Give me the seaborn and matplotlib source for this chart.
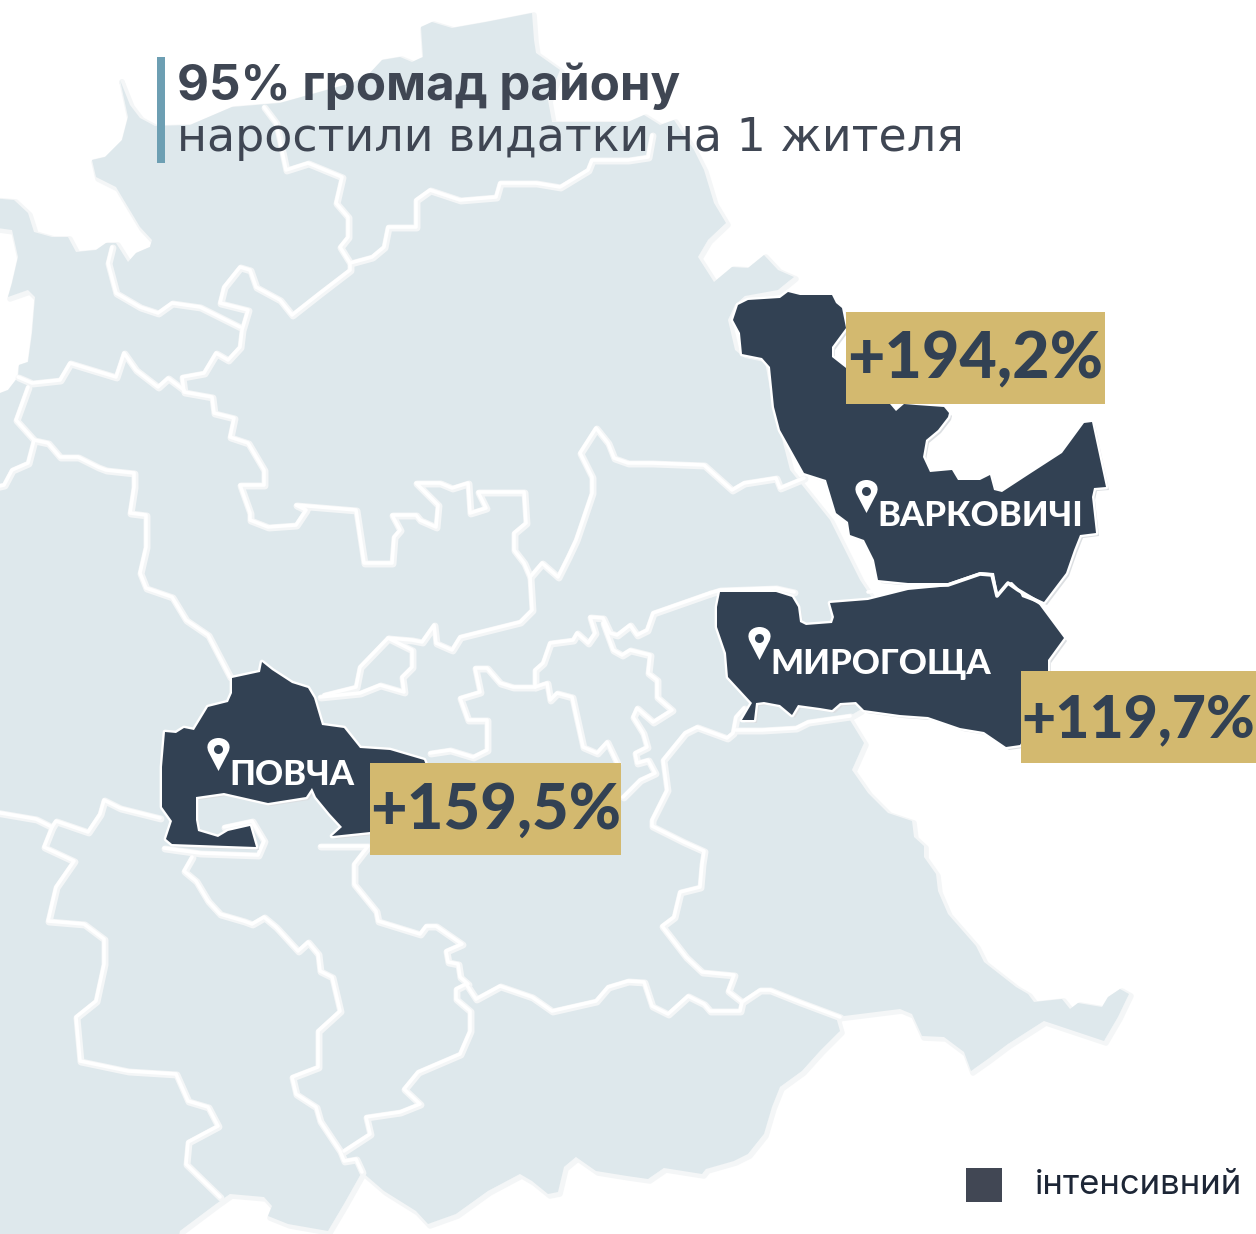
import numpy as np
import pandas as pd
import matplotlib.pyplot as plt
import seaborn as sns
from matplotlib.path import Path
from matplotlib.patches import Rectangle

# Map shapes (pixel coords)
outline = [(120, 80), (130, 105), (140, 118), (155, 126), (190, 125), (232, 107), (280, 103), (352, 83), (368, 75),
           (382, 60), (400, 57), (412, 62), (423, 57), (421, 27), (432, 22), (452, 28), (486, 22), (532, 13),
           (534, 40), (536, 53), (560, 70), (548, 100), (552, 122), (628, 122), (644, 115), (660, 125), (674, 120),
           (694, 150), (704, 170), (714, 203), (726, 223), (708, 240), (698, 257), (714, 282), (732, 267), (748, 268),
           (764, 255), (778, 270), (794, 277), (778, 290), (745, 296), (735, 305), (728, 320), (735, 350), (745, 358),
           (765, 362), (772, 400), (790, 470), (830, 520), (860, 580), (900, 640), (860, 710), (848, 717), (864, 743),
           (852, 770), (868, 793), (888, 813), (912, 821), (914, 837), (924, 846), (924, 857), (936, 874), (938, 891),
           (948, 914), (976, 946), (984, 962), (1016, 987), (1028, 994), (1034, 1002), (1062, 999), (1070, 1009),
           (1078, 1003), (1102, 1007), (1108, 997), (1120, 989), (1129, 994), (1118, 1017), (1104, 1041), (1044, 1021),
           (1008, 1044), (988, 1059), (971, 1071), (964, 1052), (944, 1037), (922, 1036), (912, 1014), (900, 1009),
           (836, 1017), (840, 1031), (820, 1051), (802, 1071), (780, 1087), (772, 1107), (764, 1134), (748, 1154),
           (734, 1161), (706, 1169), (702, 1174), (664, 1168), (648, 1179), (627, 1176), (596, 1171), (576, 1157),
           (564, 1167), (558, 1192), (548, 1194), (532, 1181), (520, 1174), (488, 1191), (456, 1214), (428, 1224),
           (416, 1211), (384, 1191), (362, 1172), (344, 1204), (328, 1231), (288, 1224), (268, 1216), (272, 1206),
           (264, 1197), (230, 1194), (216, 1204), (180, 1231), (178, 1240), (-10, 1240), (-10, 397), (8, 390),
           (18, 377), (19, 365), (28, 362), (32, 333), (35, 297), (28, 290), (8, 297), (12, 283), (18, 257), (12, 230),
           (-10, 227), (-10, 198), (14, 200), (28, 213), (34, 232), (52, 237), (68, 237), (76, 252), (96, 250),
           (106, 243), (116, 243), (128, 262), (136, 253), (150, 247), (152, 240), (140, 227), (128, 207), (116, 187),
           (96, 177), (92, 160), (105, 157), (122, 140), (128, 117)]

varkovychi = [(788, 292), (800, 295), (832, 295), (836, 303), (842, 308), (846, 328), (832, 347), (832, 357), (846, 368),
              (880, 390), (890, 404), (896, 411), (904, 404), (916, 405), (944, 407), (949, 413), (948, 417), (938, 430),
              (926, 440), (923, 457), (930, 472), (952, 470), (958, 480), (980, 480), (990, 475), (994, 490), (1002, 492),
              (1028, 475), (1062, 453), (1084, 423), (1092, 422), (1106, 487), (1094, 488), (1092, 497), (1096, 533),
              (1080, 535), (1074, 550), (1066, 573), (1044, 602), (1022, 592), (1012, 582), (1006, 583), (998, 595),
              (994, 573), (980, 572), (948, 583), (908, 583), (878, 580), (874, 560), (864, 540), (850, 535), (848, 522),
              (836, 513), (826, 480), (804, 473), (780, 430), (774, 407), (770, 367), (762, 358), (742, 354), (740, 333),
              (733, 320), (738, 305), (748, 300), (780, 298)]

myrohoshcha = [(720, 592), (776, 592), (792, 597), (798, 607), (800, 622), (806, 625), (832, 623), (834, 617), (830, 603),
               (868, 600), (908, 590), (940, 587), (980, 573), (992, 575), (996, 590), (998, 597), (1008, 583), (1018, 588),
               (1022, 597), (1038, 603), (1064, 638), (1048, 660), (1048, 700), (1020, 745), (1006, 747), (984, 732),
               (960, 728), (928, 717), (900, 715), (864, 710), (856, 702), (840, 703), (832, 710), (820, 708), (798, 705),
               (792, 715), (780, 705), (764, 702), (756, 703), (754, 720), (742, 720), (752, 703), (728, 677), (726, 653),
               (717, 627), (717, 607)]

povcha = [(262, 662), (272, 670), (292, 683), (308, 688), (314, 698), (322, 725), (344, 728), (360, 748), (390, 750),
          (424, 760), (430, 775), (430, 830), (370, 832), (332, 836), (342, 827), (330, 814), (316, 797), (312, 788),
          (306, 797), (268, 803), (224, 793), (196, 797), (196, 820), (198, 831), (218, 837), (228, 831), (250, 826),
          (256, 847), (172, 844), (166, 839), (172, 821), (162, 807), (162, 767), (165, 732), (176, 733), (184, 728),
          (194, 730), (208, 707), (228, 702), (232, 693), (232, 678), (260, 672)]

border_a = [(264, 107), (276, 123), (286, 170), (308, 163), (342, 177), (336, 203), (348, 217), (348, 237), (340, 247),
            (350, 263), (350, 270), (320, 293), (292, 315), (280, 300), (256, 287), (250, 270), (240, 267), (224, 287),
            (220, 303), (248, 310), (242, 330), (240, 347), (228, 360), (216, 353), (204, 373), (182, 377), (184, 392),
            (212, 397), (214, 413), (234, 418), (230, 437), (248, 443), (264, 470), (264, 485), (240, 485), (250, 513),
            (250, 520), (268, 527), (296, 525), (306, 510), (296, 505), (356, 510), (364, 563), (392, 563), (394, 537),
            (400, 530), (392, 515), (416, 515), (420, 520), (436, 527), (438, 505), (416, 483), (440, 483), (452, 488),
            (468, 483), (470, 513), (486, 508), (478, 492), (524, 492), (526, 523), (514, 533), (514, 550), (524, 563),
            (530, 577), (532, 610), (520, 622), (460, 637), (452, 650), (436, 643), (434, 625), (422, 642), (412, 640),
            (388, 638), (412, 650), (412, 667), (402, 677), (404, 692), (380, 685), (360, 693), (320, 697)]
border_b = [(388, 638), (360, 667), (356, 687), (324, 695)]
border_c = [(350, 263), (372, 257), (384, 247), (388, 227), (416, 227), (416, 200), (430, 190), (460, 200), (496, 197),
            (500, 183), (536, 183), (560, 187), (588, 170), (592, 160), (628, 160), (648, 157), (652, 135)]
border_d = [(530, 577), (542, 563), (558, 577), (568, 557), (576, 540), (592, 493), (592, 477), (580, 453), (596, 428),
            (608, 443), (614, 458), (628, 463), (652, 463), (704, 465), (732, 490), (744, 483), (776, 478), (780, 488),
            (804, 478)]
border_e = [(112, 247), (108, 263), (116, 293), (140, 307), (158, 313), (172, 303), (200, 307), (240, 327)]
border_f = [(18, 377), (32, 383), (60, 380), (70, 363), (116, 377), (124, 353), (136, 370), (158, 387), (168, 378),
            (184, 390)]
border_g = [(28, 387), (16, 420), (34, 440), (28, 463), (12, 470), (4, 485), (-5, 487)]
border_h = [(34, 440), (48, 443), (60, 457), (78, 457), (98, 467), (106, 470), (134, 473), (134, 487), (130, 513),
            (146, 515), (146, 547), (140, 573), (146, 588), (172, 597), (186, 620), (208, 635), (230, 677)]
border_i = [(-5, 812), (36, 819), (52, 827), (44, 847), (74, 861), (56, 887), (48, 921), (84, 924), (104, 939), (104, 964),
            (96, 1001), (76, 1017), (80, 1061), (128, 1071), (176, 1074), (188, 1101), (208, 1107), (218, 1126),
            (188, 1142), (186, 1164), (220, 1197)]
border_j = [(52, 827), (56, 821), (88, 832), (100, 814), (104, 800), (120, 808), (160, 818)]
border_k = [(192, 857), (184, 871), (196, 881), (208, 901), (220, 914), (244, 921), (252, 924), (264, 917), (276, 927),
            (298, 951), (308, 942), (318, 954), (320, 971), (332, 977), (336, 994), (340, 1011), (318, 1031), (318, 1067),
            (292, 1077), (296, 1094), (316, 1107), (320, 1121), (340, 1151), (344, 1161), (356, 1159), (362, 1172)]
border_l = [(344, 1151), (370, 1134), (366, 1117), (400, 1112), (420, 1104), (404, 1089), (418, 1072), (460, 1054),
            (470, 1031), (470, 1011), (456, 999), (456, 989), (466, 984), (476, 999), (500, 986), (532, 997), (552, 1011),
            (596, 1001), (608, 987), (628, 981), (644, 982), (652, 1006), (668, 1014), (688, 996), (704, 1004), (710, 1011),
            (740, 1011), (742, 1002), (728, 991), (734, 975), (702, 972), (686, 957), (662, 926), (674, 917), (680, 892),
            (700, 887), (702, 864), (704, 851), (684, 842), (652, 826), (652, 820), (667, 790), (663, 760), (685, 733),
            (697, 727), (727, 738), (733, 733), (736, 717), (744, 708)]
border_m = [(742, 1002), (760, 990), (770, 990), (800, 1002), (840, 1017)]
border_n = [(320, 846), (368, 846), (354, 864), (354, 884), (376, 911), (378, 921), (420, 934), (426, 926), (436, 926),
            (462, 944), (446, 951), (448, 962), (458, 964), (460, 977), (468, 984)]
border_o = [(164, 848), (200, 853), (258, 855), (264, 841), (252, 821), (224, 827)]
border_p = [(710, 593), (653, 613), (647, 630), (637, 635), (630, 625), (617, 635), (610, 633), (603, 618), (590, 617),
            (595, 633), (588, 643), (577, 633), (573, 640), (550, 643), (543, 663), (535, 670), (535, 687), (513, 687),
            (500, 683), (487, 668), (475, 668), (480, 692), (460, 698), (468, 720), (487, 720), (487, 750), (473, 757),
            (450, 750), (430, 753)]
border_q = [(603, 623), (613, 650), (622, 655), (630, 650), (650, 655), (648, 673), (657, 680), (657, 697), (672, 710),
            (653, 722), (637, 708), (633, 717), (643, 733), (647, 747), (635, 753), (637, 763), (648, 760), (655, 773),
            (640, 780), (623, 797)]
border_r = [(535, 687), (547, 683), (550, 700), (557, 693), (572, 697), (577, 720), (583, 747), (597, 753), (607, 742),
            (617, 763)]
border_s = [(710, 593), (720, 590), (776, 588), (794, 592)]
border_t = [(736, 730), (762, 730), (796, 728), (808, 722), (850, 716)]
borders = [border_a, border_b, border_c, border_d, border_e, border_f, border_g, border_h, border_i, border_j,
           border_k, border_l, border_m, border_n, border_o, border_p, border_q, border_r, border_s, border_t]
# white gap between the two dark communities
dark_gap = [(868, 592), (908, 586), (948, 585), (980, 574), (992, 575), (997, 596), (1008, 583), (1018, 590), (1040, 603)]

community_names = ['ВАРКОВИЧІ', 'МИРОГОЩА', 'ПОВЧА']
name_x = [877, 770, 229]
name_y = [526, 674, 785]
name_size = [25, 25, 25]
pin_x = [866, 759, 218]
pin_y = [496, 643, 754]
growth_labels = ['+194,2%', '+119,7%', '+159,5%']
growth_size = [46.5, 42.5, 45.5]
badge_left = [846, 1021, 370]
badge_right = [1105, 1256, 621]
badge_top = [312, 671, 763]
badge_bottom = [404, 763, 855]

LIGHT = '#dee8ec'
PALE = '#f4f6f7'
DARK = '#324153'
GOLD = '#d3b96f'
TITLE_COL = '#3f4653'

sns.set_theme(style='white')
plt.rcParams['font.family'] = ['Inter', 'DejaVu Sans']

fig = plt.figure(figsize=(12.56, 12.34), dpi=100)
ax = fig.add_axes([0, 0, 1, 1])


def line_table(shapes, shift=0):
    rows = []
    for i, shape in enumerate(shapes):
        for x, y in shape:
            rows.append((i, x + shift, y + shift))
    return pd.DataFrame(rows, columns=['id', 'x', 'y'])


def draw_lines(shapes, color, width, shift=0, zorder=2):
    sns.lineplot(data=line_table(shapes, shift), x='x', y='y', units='id', estimator=None, sort=False,
                 color=color, linewidth=width, legend=False, ax=ax, zorder=zorder,
                 solid_joinstyle='round', solid_capstyle='round')


# base map
draw_lines([outline + outline[:1]], PALE, 4.0, shift=2, zorder=1)
ox, oy = zip(*outline)
ax.fill(ox, oy, color=LIGHT, lw=0, zorder=1.5)

# community borders: pale band + white core
draw_lines(borders, PALE, 5.0, shift=1, zorder=2)
draw_lines(borders, 'white', 2.6, zorder=2.1)

# highlighted communities
for shape in [varkovychi, myrohoshcha, povcha]:
    sx, sy = zip(*shape)
    ax.fill(np.array(sx) + 3, np.array(sy) + 3, color='#dcdfe2', lw=0, zorder=3)
    ax.fill(sx, sy, facecolor=DARK, edgecolor='white', lw=3.4, joinstyle='round', zorder=3.1)
    ax.fill(sx, sy, facecolor=DARK, lw=0, zorder=3.2)
draw_lines([dark_gap], 'white', 2.6, zorder=3.3)

# pins
pin_shape = Path([(0, -1), (-0.6, 0.15), (-0.85, 0.7), (-0.4, 1), (0, 1), (0.4, 1), (0.85, 0.7), (0.6, 0.15), (0, -1)],
                 [Path.MOVETO, Path.LINETO, Path.CURVE4, Path.CURVE4, Path.CURVE4, Path.CURVE4, Path.CURVE4, Path.CURVE4,
                  Path.LINETO])
pins = pd.DataFrame({'x': pin_x, 'y': pin_y})
sns.scatterplot(data=pins, x='x', y='y', marker=pin_shape, s=565, color='white', linewidth=0, legend=False, ax=ax, zorder=4)
sns.scatterplot(x=pins['x'], y=pins['y'] - 5, marker='o', s=42, color=DARK, linewidth=0, legend=False, ax=ax, zorder=4.1)

for name, x, y, size in zip(community_names, name_x, name_y, name_size):
    ax.text(x, y, name, color='white', fontsize=size, fontweight='black', family=['Lato', 'DejaVu Sans'],
            ha='left', va='baseline', zorder=5)

# badges
for label, size, x0, x1, y0, y1 in zip(growth_labels, growth_size, badge_left, badge_right, badge_top, badge_bottom):
    ax.add_patch(Rectangle((x0, y0), x1 - x0, y1 - y0, color=GOLD, lw=0, zorder=6))
    ax.text((x0 + x1) / 2, y1 - 26, label, color=DARK, fontsize=size, fontweight='black', family=['Lato', 'DejaVu Sans'],
            ha='center', va='baseline', zorder=7)

# title
ax.add_patch(Rectangle((157, 57), 8, 106, color='#6d9fb3', lw=0, zorder=6))
ax.text(177, 100, '95% громад району', color=TITLE_COL, fontsize=35.5, fontweight='bold', ha='left', va='baseline', zorder=7)
ax.text(177, 151, 'наростили видатки на 1 жителя', color=TITLE_COL, fontsize=33.1, family=['DejaVu Sans'],
        ha='left', va='baseline', zorder=7)

# legend
ax.add_patch(Rectangle((966, 1168), 36, 34, color='#414754', lw=0, zorder=6))
ax.text(1035, 1194, 'інтенсивний', color='#1d2636', fontsize=25, ha='left', va='baseline', zorder=7)

ax.set_xlim(0, 1256)
ax.set_ylim(1234, 0)
ax.axis('off')
fig.savefig('out.png', dpi=100)
